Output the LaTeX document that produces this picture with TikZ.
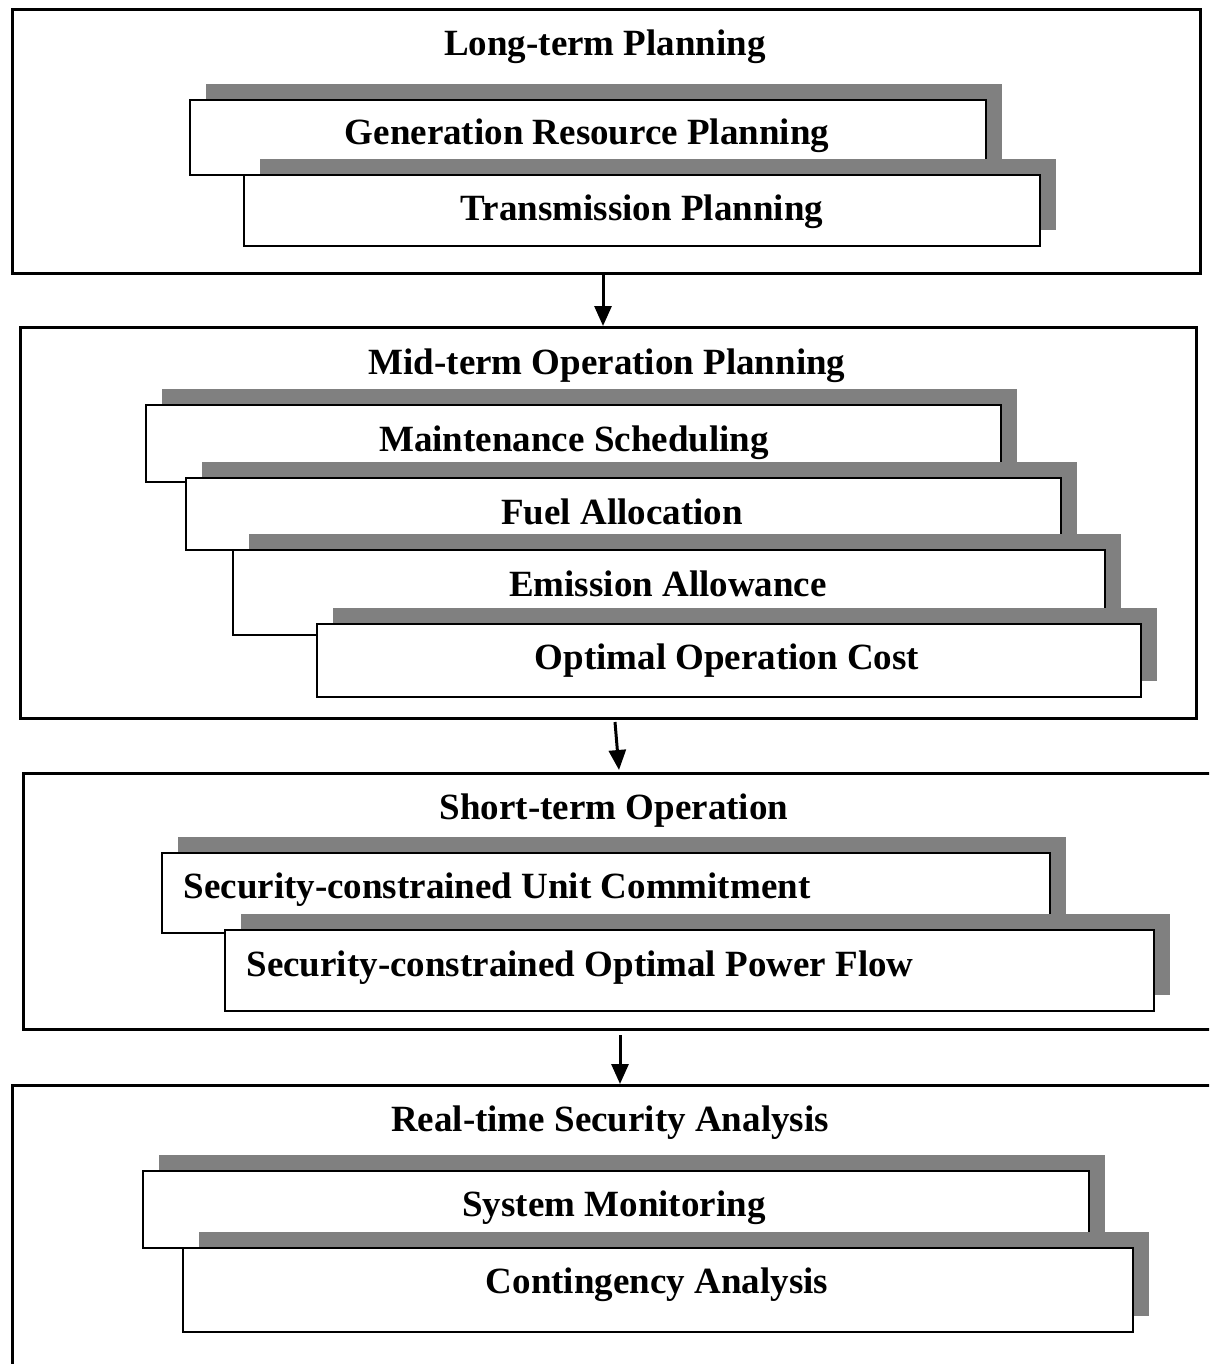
\documentclass[tikz,border=0pt]{standalone}
\usepackage{fontspec}
\setmainfont{Liberation Serif}
\usetikzlibrary{arrows.meta,shadows}
\definecolor{shadowgray}{RGB}{128,128,128}
\begin{document}
\begin{tikzpicture}[x=1pt,y=-1pt,
  outerbox/.style={draw=black,line width=3pt,fill=white,inner sep=0pt,anchor=north west},
  innerbox/.style={draw=black,line width=2pt,fill=white,inner sep=0pt,anchor=north west,
    copy shadow={shadow xshift=16pt,shadow yshift=16pt,fill=shadowgray,draw=none}},
  lbl/.style={font=\fontsize{37}{44}\selectfont\bfseries,anchor=base,inner sep=0pt,text=black},
  arr/.style={line width=3pt,-{Triangle[width=17pt,length=20pt]}}]
\clip (0,0) rectangle (1209,1364);
\fill[white] (0,0) rectangle (1209,1364);

% Stage 1: long-term planning
\node[outerbox,minimum width=1188pt,minimum height=264pt] (o1) at (11,8) {};
\node[lbl] (t1) at (605,56) {Long-term Planning};
\node[innerbox,minimum width=796pt,minimum height=75pt] (gen) at (189,99) {};
\node[lbl] (tgen) at (587,145) {Generation Resource Planning};
\node[innerbox,minimum width=796pt,minimum height=71pt] (trans) at (243,174) {};
\node[lbl] (ttrans) at (642,221) {Transmission Planning};

% Stage 2: mid-term operation planning
\node[outerbox,minimum width=1176pt,minimum height=391pt] (o2) at (19,326) {};
\node[lbl] (t2) at (607,374) {Mid-term Operation Planning};
\node[innerbox,minimum width=855pt,minimum height=77pt] (maint) at (145,404) {};
\node[lbl] (tmaint) at (574,451) {Maintenance Scheduling};
\node[innerbox,minimum width=875pt,minimum height=72pt] (fuel) at (185,477) {};
\node[lbl] (tfuel) at (622,524) {Fuel Allocation};
\node[innerbox,minimum width=872pt,minimum height=85pt] (emis) at (232,549) {};
\node[lbl] (temis) at (668,596) {Emission Allowance};
\node[innerbox,minimum width=824pt,minimum height=73pt] (opt) at (316,623) {};
\node[lbl] (topt) at (727,669) {Optimal Operation Cost};

% Stage 3: short-term operation
\node[outerbox,minimum width=1190pt,minimum height=256pt] (o3) at (22,772) {};
\node[lbl] (t3) at (614,819) {Short-term Operation};
\node[innerbox,minimum width=888pt,minimum height=80pt] (scuc) at (161,852) {};
\node[lbl] (tscuc) at (497,898) {Security-constrained Unit Commitment};
\node[innerbox,minimum width=929pt,minimum height=81pt] (scopf) at (224,929) {};
\node[lbl] (tscopf) at (580,976) {Security-constrained Optimal Power Flow};

% Stage 4: real-time security analysis (runs past the page edge)
\node[outerbox,minimum width=1214pt,minimum height=316pt] (o4) at (11,1084) {};
\node[lbl] (t4) at (610,1131) {Real-time Security Analysis};
\node[innerbox,minimum width=946pt,minimum height=77pt] (mon) at (142,1170) {};
\node[lbl] (tmon) at (614,1216) {System Monitoring};
\node[innerbox,minimum width=950pt,minimum height=84pt] (cont) at (182,1247) {};
\node[lbl] (tcont) at (657,1293) {Contingency Analysis};

% Connectors between the stages
\coordinate (a1) at (603,0);
\coordinate (a2s) at (615,722);
\coordinate (a2e) at (619,770);
\coordinate (a3) at (620,0);
\draw[arr] (a1 |- o1.south) -- (a1 |- o2.north);
\draw[arr] (a2s) -- (a2e);
\draw[arr] ([yshift=-4pt]a3 |- o3.south) -- (a3 |- o4.north);
\end{tikzpicture}
\end{document}
